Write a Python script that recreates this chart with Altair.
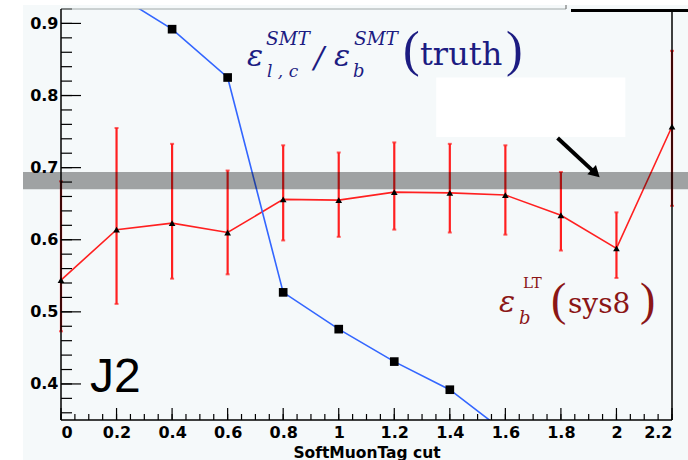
import altair as alt
import numpy as np
import pandas as pd

# Plot area size in pixels (padding puts it at 61,9 inside the 688x460 page)
W, H = 611, 411

# SoftMuonTag cut values
cuts = [0.0, 0.2, 0.4, 0.6, 0.8, 1.0, 1.2, 1.4, 1.6, 1.8, 2.0, 2.2]
# eps_b^LT (sys8) with asymmetric error bars
eff_lt = [0.544, 0.614, 0.623, 0.610, 0.656, 0.655, 0.666, 0.665, 0.662, 0.634, 0.588, 0.757]
eff_hi = [0.681, 0.755, 0.733, 0.696, 0.731, 0.721, 0.735, 0.733, 0.731, 0.694, 0.638, 0.862]
eff_lo = [0.473, 0.511, 0.546, 0.552, 0.599, 0.604, 0.614, 0.610, 0.607, 0.585, 0.547, 0.647]

# eps_lc^SMT / eps_b^SMT (truth)
ratio_cuts = [0.2, 0.4, 0.6, 0.8, 1.0, 1.2, 1.4, 1.6]
ratio_vals = [0.940, 0.892, 0.825, 0.527, 0.476, 0.431, 0.392, 0.333]

# Reference band
band_lo, band_hi = 0.670, 0.694

# Highlight box and arrow (data coordinates)
box_x = [1.351, 2.032]
box_y = [0.7425, 0.825]
arrow_x = [1.788, 1.925]
arrow_y = [0.741, 0.692]

# Axis ticks
x_major = [0.0, 0.2, 0.4, 0.6, 0.8, 1.0, 1.2, 1.4, 1.6, 1.8, 2.0, 2.2]
x_minor = [round(v, 2) for v in np.arange(0.0, 2.2001, 0.05)]
y_major = [0.4, 0.5, 0.6, 0.7, 0.8, 0.9]
y_minor = [round(v, 2) for v in np.arange(0.36, 0.9201, 0.02)]

X_DOM = [0.0, 2.2]
Y_DOM = [0.35, 0.92]

xs = alt.Scale(domain=X_DOM, nice=False, zero=False)
ys = alt.Scale(domain=Y_DOM, nice=False, zero=False)

LABEL_FONT = "DejaVu Sans"
SERIF = "DejaVu Serif"
PAREN_FONT = "Liberation Serif"
NAVY = "#1c1c82"
DARKRED = "#8b1616"
RED = "#ff2020"
BLUE = "#3366ff"
BG = "#f5f9fa"

one = pd.DataFrame({"k": [0]})

eff_df = pd.DataFrame({"cut": cuts, "eff": eff_lt, "hi": eff_hi, "lo": eff_lo})
ratio_df = pd.DataFrame({"cut": ratio_cuts, "ratio": ratio_vals})

# White page margins at the left and top edges of the light panel
margin_left = alt.Chart(one).mark_rect(color="white").encode(
    x=alt.value(-61), x2=alt.value(-38), y=alt.value(-9), y2=alt.value(H + 40)
)
margin_top = alt.Chart(one).mark_rect(color="white").encode(
    x=alt.value(-61), x2=alt.value(W + 16), y=alt.value(-9), y2=alt.value(-4)
)

# Error bars
err_bars = alt.Chart(eff_df).mark_rule(color=RED, strokeWidth=2.2).encode(
    x=alt.X("cut:Q", scale=xs), y=alt.Y("lo:Q", scale=ys), y2="hi:Q"
)
caps_hi = alt.Chart(eff_df).mark_tick(color=RED, orient="horizontal", size=4, thickness=2).encode(
    x=alt.X("cut:Q", scale=xs), y=alt.Y("hi:Q", scale=ys)
)
caps_lo = alt.Chart(eff_df).mark_tick(color=RED, orient="horizontal", size=4, thickness=2).encode(
    x=alt.X("cut:Q", scale=xs), y=alt.Y("lo:Q", scale=ys)
)

# eps_b^LT line, carries the axes
eff_line = alt.Chart(eff_df).mark_line(color=RED, strokeWidth=1.6).encode(
    x=alt.X(
        "cut:Q",
        scale=xs,
        axis=alt.Axis(
            values=x_major,
            format="~g",
            title="SoftMuonTag cut",
            titleFont=LABEL_FONT,
            titleFontSize=15.5,
            titleFontWeight="bold",
            titleColor="black",
            titlePadding=5,
            labelPadding=4,
            zindex=1,
        ),
    ),
    y=alt.Y(
        "eff:Q",
        scale=ys,
        axis=alt.Axis(values=y_major, format=".1f", title="", labelPadding=3, zindex=1),
    ),
)
eff_pts = alt.Chart(eff_df).mark_point(
    shape="triangle-up", filled=True, color="black", size=45, opacity=1
).encode(x=alt.X("cut:Q", scale=xs), y=alt.Y("eff:Q", scale=ys))

# Light-jet / b efficiency ratio
ratio_line = alt.Chart(ratio_df).mark_line(color=BLUE, strokeWidth=1.6, clip=True).encode(
    x=alt.X("cut:Q", scale=xs), y=alt.Y("ratio:Q", scale=ys)
)
ratio_pts = alt.Chart(ratio_df).mark_point(
    shape="square", filled=True, color="black", size=75, opacity=1, clip=True
).encode(x=alt.X("cut:Q", scale=xs), y=alt.Y("ratio:Q", scale=ys))

# Grey reference band across the whole panel, drawn translucent on top
band = alt.Chart(pd.DataFrame({"lo": [band_lo], "hi": [band_hi]})).mark_rect(
    color="black", opacity=0.35
).encode(x=alt.value(-38), x2=alt.value(W + 16), y=alt.Y("lo:Q", scale=ys), y2="hi:Q")

# White box and arrow
box = alt.Chart(pd.DataFrame({"x0": [box_x[0]], "x1": [box_x[1]], "y0": [box_y[0]], "y1": [box_y[1]]})).mark_rect(
    color="white"
).encode(x=alt.X("x0:Q", scale=xs), x2="x1:Q", y=alt.Y("y0:Q", scale=ys), y2="y1:Q")
arrow_shaft = alt.Chart(
    pd.DataFrame({"x0": [arrow_x[0]], "x1": [arrow_x[1]], "y0": [arrow_y[0]], "y1": [arrow_y[1]]})
).mark_rule(color="black", strokeWidth=4).encode(
    x=alt.X("x0:Q", scale=xs), x2="x1:Q", y=alt.Y("y0:Q", scale=ys), y2="y1:Q"
)
arrow_head = alt.Chart(pd.DataFrame({"x": [arrow_x[1]], "y": [arrow_y[1]]})).mark_point(
    shape="triangle-up", filled=True, color="black", size=160, angle=133, opacity=1
).encode(x=alt.X("x:Q", scale=xs), y=alt.Y("y:Q", scale=ys))

# Inward-pointing ticks
def xticks(vals, length):
    return alt.Chart(pd.DataFrame({"v": vals})).mark_rule(color="black", strokeWidth=1.2).encode(
        x=alt.X("v:Q", scale=xs), y=alt.value(H), y2=alt.value(H - length)
    )

def yticks(vals, length):
    return alt.Chart(pd.DataFrame({"v": vals})).mark_rule(color="black", strokeWidth=1.2).encode(
        y=alt.Y("v:Q", scale=ys), x=alt.value(0), x2=alt.value(length)
    )

ticks = [xticks(x_major, 12), xticks(x_minor, 6), yticks(y_major, 20), yticks(y_minor, 11)]

# Frame
def hline(x0, x1, y, color, width):
    return alt.Chart(one).mark_rule(color=color, strokeWidth=width).encode(
        x=alt.value(x0), x2=alt.value(x1), y=alt.value(y)
    )

def vline(x, y0, y1, color, width):
    return alt.Chart(one).mark_rule(color=color, strokeWidth=width).encode(
        x=alt.value(x), y=alt.value(y0), y2=alt.value(y1)
    )

frame = [
    hline(0, 505, 0, "#a0a8a8", 1),
    vline(505, -4, 0, "#606060", 1),
    hline(510, W + 16, 1.5, "black", 3),
    vline(0, 0, H, "black", 1.5),
    hline(0, W, H, "black", 1.5),
    vline(W, 2, H, "black", 1.5),
]

# Text pieces placed at pixel positions inside the plot area
def piece(text, x, y, size, color, italic=False, font=SERIF):
    return alt.Chart(one).mark_text(
        text=text,
        font=font,
        fontSize=size,
        fontStyle="italic" if italic else "normal",
        color=color,
        align="left",
        baseline="alphabetic",
    ).encode(x=alt.value(x), y=alt.value(y))

ratio_label = [
    piece("ε", 186, 57, 30, NAVY, True),
    piece("SMT", 205, 36, 18.5, NAVY, True),
    piece("l , c", 206, 68, 17, NAVY, True),
    piece("/", 253, 59, 30, NAVY, True),
    piece("ε", 273, 57, 30, NAVY, True),
    piece("SMT", 293, 36, 18.5, NAVY, True),
    piece("b", 292, 68, 18, NAVY, True),
    piece("(", 342, 57, 50, NAVY, font=PAREN_FONT),
    piece("truth", 359, 56, 32, NAVY),
    piece(")", 445, 57, 50, NAVY, font=PAREN_FONT),
]

eff_label = [
    piece("ε", 438, 303, 30, DARKRED, True),
    piece("LT", 462, 279, 15, DARKRED),
    piece("b", 458, 315, 18, DARKRED, True),
    piece("(", 490, 306, 46, DARKRED, font=PAREN_FONT),
    piece("sys8", 507, 304, 28, DARKRED),
    piece(")", 579, 306, 46, DARKRED, font=PAREN_FONT),
]

j2 = piece("J2", 29, 383, 48, "black", font="Liberation Sans")

layers = (
    [margin_left, margin_top, err_bars, caps_hi, caps_lo, eff_line, ratio_line, ratio_pts, eff_pts,
     band, box, arrow_shaft, arrow_head]
    + ticks
    + frame
    + ratio_label
    + eff_label
    + [j2]
)

chart = (
    alt.layer(*layers)
    .properties(
        width=W,
        height=H,
        autosize=alt.AutoSizeParams(type="none"),
        padding={"left": 61, "top": 9, "right": 16, "bottom": 40},
        background=BG,
    )
    .configure_view(stroke=None)
    .configure_axis(
        domain=False,
        ticks=False,
        grid=False,
        labelFont=LABEL_FONT,
        labelFontSize=16,
        labelFontWeight="bold",
        labelColor="black",
    )
)

chart.save("out.html", embed_options={"renderer": "svg", "actions": False})
